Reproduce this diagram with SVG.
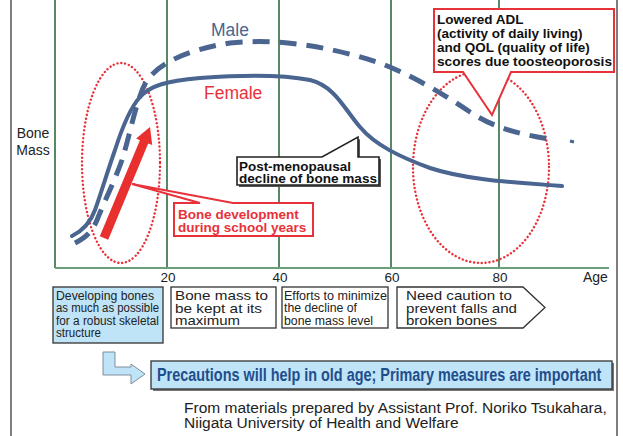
<svg xmlns="http://www.w3.org/2000/svg" width="623" height="436" viewBox="0 0 623 436">
<style>
.frame{stroke:#3a3a3a;stroke-width:1.3;fill:none}
.grid{stroke:#2f6b3d;stroke-width:1.6;fill:none}
.axis{stroke:#6a9f78;stroke-width:1.8;fill:none}
.tick{font-family:"Liberation Sans",Arial,sans-serif;font-size:13.5px;fill:#222}
.lbl{font-family:"Liberation Sans",Arial,sans-serif;font-size:14px;fill:#222}
.series{font-family:"Liberation Sans",Arial,sans-serif;font-size:17.5px}
.female{stroke:#4a6590;stroke-width:4;fill:none;stroke-linecap:round}
.male{stroke:#4a6590;stroke-width:5;fill:none;stroke-dasharray:17 10}
.dots{stroke:#e8323a;stroke-width:2.4;fill:none;stroke-dasharray:0.1 3.8;stroke-linecap:round}
.rcall{fill:#fff;stroke:#e8323a;stroke-width:2}
.kcall{fill:#fff;stroke:#222;stroke-width:1.6}
.bold{font-family:"Liberation Sans",Arial,sans-serif;font-weight:bold}
.box{fill:#fff;stroke:#333;stroke-width:1.3}
.bluebox{fill:#bfe3f7;stroke:#333;stroke-width:1.3}
.norm{font-family:"Liberation Sans",Arial,sans-serif;font-size:13.5px;fill:#222}
.narrow{font-family:"Liberation Sans",Arial,sans-serif;font-size:12.5px;fill:#222}
.foot{font-family:"Liberation Sans",Arial,sans-serif;font-size:15.5px;fill:#222}
</style>

<g id="frame">
<line class="frame" x1="11" y1="0" x2="11" y2="436"/>
<line class="frame" x1="617" y1="0" x2="617" y2="436"/>
</g>

<g id="axes">
<line class="grid" x1="55" y1="0" x2="55" y2="268"/>
<line class="grid" x1="167" y1="0" x2="167" y2="268"/>
<line class="grid" x1="279" y1="0" x2="279" y2="268"/>
<line class="grid" x1="391" y1="0" x2="391" y2="268"/>
<line class="grid" x1="499" y1="0" x2="499" y2="268"/>
<line class="axis" x1="55" y1="268" x2="609" y2="268"/>
<text class="tick" x="168" y="282" text-anchor="middle">20</text>
<text class="tick" x="280" y="282" text-anchor="middle">40</text>
<text class="tick" x="392" y="282" text-anchor="middle">60</text>
<text class="tick" x="500" y="282" text-anchor="middle">80</text>
<text class="lbl" x="583" y="282">Age</text>
<text class="lbl" x="33" y="138" text-anchor="middle">Bone</text>
<text class="lbl" x="33" y="155" text-anchor="middle">Mass</text>
</g>

<g id="ellipses">
<ellipse class="dots" cx="121" cy="163" rx="39" ry="100"/>
<ellipse class="dots" cx="481" cy="167" rx="68" ry="96"/>
</g>

<g id="curves">
<path id="female-curve" class="female" d="M72,236 C82,231 90,224 95,210 C101,193 108,170 115,150 C122,128 130,108 140,97 C150,86 165,81 200,78 C240,75 280,74 310,80 C335,86 345,110 360,127 C375,145 400,157 430,168 C460,178 500,182 562,186"/>
<path id="male-curve" class="male" d="M75,243 C85,238 92,232 97,220 C105,200 115,180 122,160 C130,135 136,100 146,82 C158,64 185,50 230,43 C280,38 330,47 377,62 C410,74 440,92 470,112 C490,125 510,133 555,140"/>
<line x1="570" y1="141" x2="574" y2="142" stroke="#4a6590" stroke-width="3"/>
<text class="series" x="211" y="36" fill="#4a6590">Male</text>
<text class="series" x="204" y="99" fill="#e8323a">Female</text>
</g>

<g id="growth-arrow">
<polygon fill="#e8302f" points="99.8,236.3 139.9,140.2 136.1,138.6 150,127 152.2,145.1 148.2,143.6 108.2,239.7"/>
</g>

<g id="callout-school">
<path class="rcall" d="M174,203 H200 L132,184 L233,203 H313 V236 H174 Z"/>
<text class="bold" font-size="13.5" fill="#e8323a" x="178" y="219">Bone development</text>
<text class="bold" font-size="13.5" fill="#e8323a" x="178" y="232">during school years</text>
</g>

<g id="callout-menopause">
<path d="M239,159 H324 L360,139 V159 H381 V187 H239 Z" fill="#555"/>
<path class="kcall" d="M237,157 H322 L358,137 V157 H379 V185 H237 Z"/>
<text class="bold" font-size="12.5" fill="#111" x="239" y="170.5" textLength="112" lengthAdjust="spacingAndGlyphs">Post-menopausal</text>
<text class="bold" font-size="12.5" fill="#111" x="239" y="182.5" textLength="138" lengthAdjust="spacingAndGlyphs">decline of bone mass</text>
</g>

<g id="callout-adl">
<path class="rcall" d="M434,9 H614 V72 H511 L492,115 L463,72 H434 Z"/>
<text class="bold" font-size="13.5" fill="#111" x="437" y="24">Lowered ADL</text>
<text class="bold" font-size="13.5" fill="#111" x="437" y="37.5">(activity of daily living)</text>
<text class="bold" font-size="13.5" fill="#111" x="437" y="51.5">and QOL (quality of life)</text>
<text class="bold" font-size="13.5" fill="#111" x="437" y="65.5" textLength="175" lengthAdjust="spacingAndGlyphs">scores due toosteoporosis</text>
</g>

<g id="stage-1">
<rect class="bluebox" x="53" y="287" width="110" height="56"/>
<text class="narrow" x="56" y="300" textLength="98" lengthAdjust="spacingAndGlyphs">Developing bones</text>
<text class="narrow" x="56" y="312.3" textLength="103" lengthAdjust="spacingAndGlyphs">as much as possible</text>
<text class="narrow" x="56" y="324.6" textLength="103" lengthAdjust="spacingAndGlyphs">for a robust skeletal</text>
<text class="narrow" x="56" y="337" textLength="45" lengthAdjust="spacingAndGlyphs">structure</text>
</g>

<g id="stage-2">
<rect class="box" x="171" y="287" width="105" height="41"/>
<text class="norm" x="175" y="300" textLength="93" lengthAdjust="spacingAndGlyphs">Bone mass to</text>
<text class="norm" x="175" y="312.5" textLength="87" lengthAdjust="spacingAndGlyphs">be kept at its</text>
<text class="norm" x="175" y="325" textLength="65" lengthAdjust="spacingAndGlyphs">maximum</text>
</g>

<g id="stage-3">
<rect class="box" x="282" y="287" width="106" height="41"/>
<text class="narrow" x="284" y="300" textLength="103" lengthAdjust="spacingAndGlyphs">Efforts to minimize</text>
<text class="narrow" x="284" y="312.3" textLength="73" lengthAdjust="spacingAndGlyphs">the decline of</text>
<text class="narrow" x="284" y="324.6" textLength="89" lengthAdjust="spacingAndGlyphs">bone mass level</text>
</g>

<g id="stage-4">
<path class="box" d="M397,287 H523 L545,307.5 L523,328 H397 Z"/>
<text class="norm" x="406" y="300" textLength="106" lengthAdjust="spacingAndGlyphs">Need caution to</text>
<text class="norm" x="406" y="312.5" textLength="111" lengthAdjust="spacingAndGlyphs">prevent falls and</text>
<text class="norm" x="406" y="325" textLength="91" lengthAdjust="spacingAndGlyphs">broken bones</text>
</g>

<g id="hook-arrow">
<polygon fill="#bfe3f7" stroke="#7f8e9c" stroke-width="1" points="103,352 115,352 115,367 131,367 131,364 145,374 131,384 131,375 103,375"/>
</g>

<g id="banner">
<rect x="153" y="363" width="461" height="28" fill="#777"/>
<rect class="bluebox" x="151" y="361" width="461" height="28"/>
<text class="bold" font-size="17.5" fill="#1f4e8c" transform="translate(157,381) scale(0.824,1)" x="0" y="0">Precautions will help in old age; Primary measures are important</text>
</g>

<g id="footer">
<text class="foot" x="184" y="413">From materials prepared by Assistant Prof. Noriko Tsukahara,</text>
<text class="foot" x="184" y="428">Niigata University of Health and Welfare</text>
</g>
</svg>
